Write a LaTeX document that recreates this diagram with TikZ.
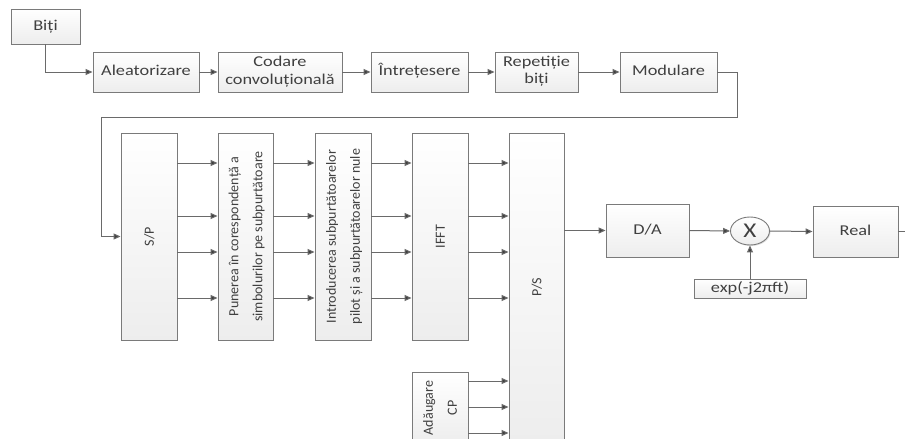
\documentclass[tikz,border=0pt]{standalone}
\usepackage{fontspec}
\setmainfont{Carlito}
\usetikzlibrary{arrows.meta,shapes.geometric,shadows}
\definecolor{ink}{HTML}{404040}
\definecolor{wire}{HTML}{6A6A6A}
\definecolor{edge}{HTML}{7A7A7A}
% horizontal label, slightly widened
\newcommand{\hlab}[2][18]{\scalebox{1.22}[1]{\fontsize{15}{#1}\selectfont\begin{tabular}{@{}c@{}}#2\end{tabular}}}
% vertical label, reading bottom to top
\newcommand{\vlab}[1]{\rotatebox{90}{\fontsize{14}{24}\selectfont\begin{tabular}{@{}c@{}}#1\end{tabular}}}
\begin{document}
\begin{tikzpicture}[x=1pt,y=-1pt,
  blk/.style={draw=edge,line width=0.9pt,top color=white,bottom color=gray!14,
    inner sep=0pt,text=ink,
    drop shadow={shadow xshift=1pt,shadow yshift=-1pt,opacity=0.25}},
  arr/.style={draw=wire,line width=1pt,-{Triangle[length=7pt,width=6pt,fill=ink]}},
  wire/.style={draw=wire,line width=1pt}]
\useasboundingbox (0,0) rectangle (905,439);
\clip (0,0) rectangle (905,439);
\fill[white] (0,0) rectangle (905,439);

% first row: bit processing
\node[blk,minimum width=69,minimum height=35] (biti) at (45.5,26.5) {\hlab{Biți}};
\node[blk,minimum width=106,minimum height=40] (alea) at (146,72) {\hlab{Aleatorizare}};
\node[blk,minimum width=124,minimum height=40] (cod) at (280,72) {\hlab{Codare\\convoluțională}};
\node[blk,minimum width=97,minimum height=40] (intr) at (419.5,72) {\hlab{Întrețesere}};
\node[blk,minimum width=83,minimum height=40] (rep) at (536.5,72) {\hlab[17]{Repetiție\\biți}};
\node[blk,minimum width=97,minimum height=40] (mod) at (668.5,72) {\hlab{Modulare}};

% second row: OFDM chain
\node[blk,minimum width=56,minimum height=207] (sp) at (149,236.5) {\vlab{S/P}};
\node[blk,minimum width=55,minimum height=207] (pun) at (245.5,236.5) {\vlab{Punerea în corespondență a\\simbolurilor pe subpurtătoare}};
\node[blk,minimum width=56,minimum height=207] (intro) at (343,236.5) {\vlab{Introducerea subpurtătoarelor\\pilot și a subpurtătoarelor nule}};
\node[blk,minimum width=56,minimum height=207] (ifft) at (440,236.5) {\vlab{IFFT}};
\node[blk,minimum width=55,minimum height=308] (ps) at (536.5,287) {\vlab{P/S}};
\node[blk,minimum width=56,minimum height=72] (cp) at (440,408) {\vlab{Adăugare\\CP}};

\node[blk,minimum width=83,minimum height=53] (da) at (647.5,230.5) {\hlab{D/A}};
\node[blk,ellipse,minimum width=39,minimum height=28] (mult) at (750,231) {\scalebox{1.2}[1]{\fontsize{21}{21}\selectfont X}};
\node[blk,minimum width=112,minimum height=19] (exp) at (750,288.5) {\hlab{exp(-j2πft)}};
\node[blk,minimum width=85,minimum height=51] (real) at (855.5,231.5) {\hlab{Real}};

% helper coordinates for the routed wires
\coordinate (t1) at (737,117);
\coordinate (t2) at (101,117);
\coordinate (out) at (905,231.5);
\foreach \i/\y in {1/163,2/216,3/252,4/298} \coordinate (r\i) at (0,\y);
\foreach \i/\y in {1/381,2/407,3/433} \coordinate (c\i) at (0,\y);

% connectors
\draw[arr] (biti.south) |- (alea.west);
\draw[arr] (alea) -- (cod);
\draw[arr] (cod) -- (intr);
\draw[arr] (intr) -- (rep);
\draw[arr] (rep) -- (mod);
\draw[arr] (mod.east) -| (t1) -- (t2) |- (sp.west);
\foreach \i in {1,...,4}{
  \draw[arr] (sp.east |- r\i) -- (pun.west |- r\i);
  \draw[arr] (pun.east |- r\i) -- (intro.west |- r\i);
  \draw[arr] (intro.east |- r\i) -- (ifft.west |- r\i);
  \draw[arr] (ifft.east |- r\i) -- (ps.west |- r\i);
}
\foreach \i in {1,2,3}
  \draw[arr] (cp.east |- c\i) -- (ps.west |- c\i);
\draw[arr] (ps.east |- da.west) -- (da.west);
\draw[arr] (da.east) -- (mult.west);
\draw[arr] (mult.east) -- (real.west);
\draw[arr] (exp.north) -- (mult.south);
\draw[wire] (real.east) -- (out);
\end{tikzpicture}
\end{document}
